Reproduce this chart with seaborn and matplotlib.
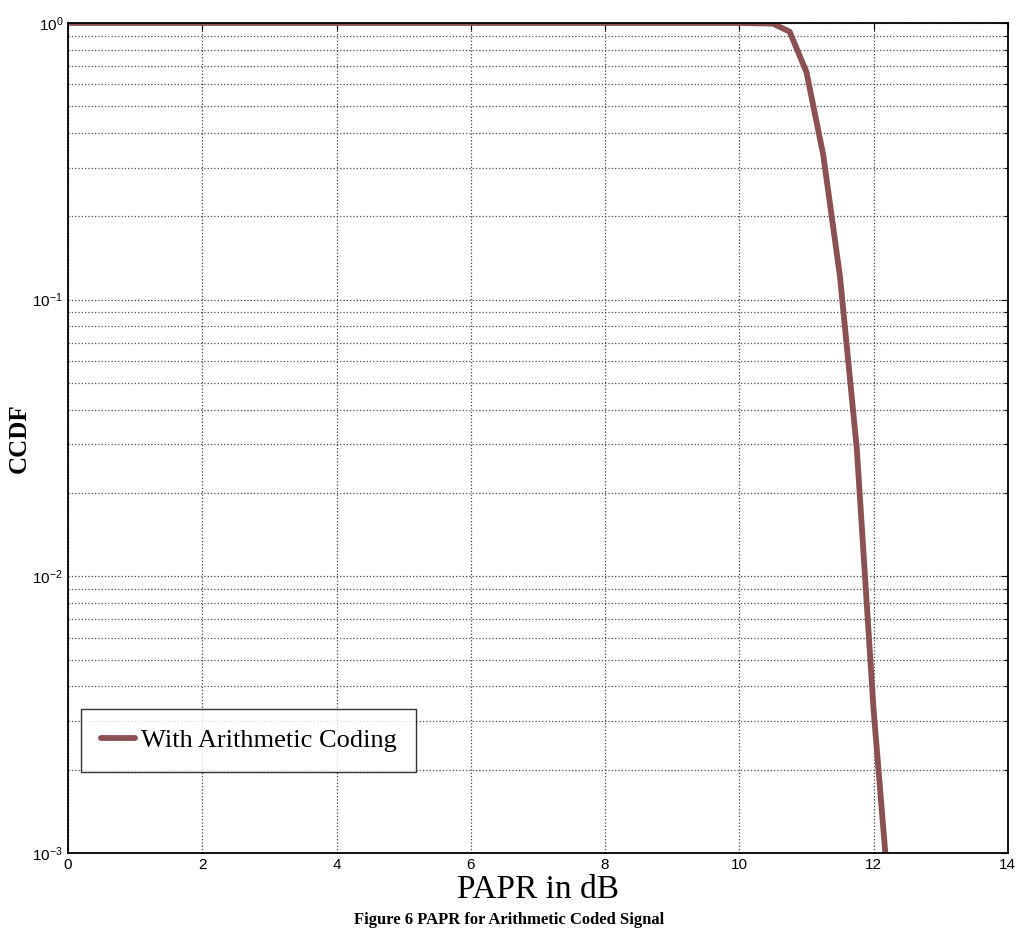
import numpy as np
import pandas as pd
import matplotlib
matplotlib.use("Agg")
import matplotlib.pyplot as plt
import seaborn as sns
from matplotlib.ticker import LogLocator, NullFormatter, FixedLocator

# data (PAPR in dB vs CCDF)
papr_db = [0.0, 10.0, 10.5, 10.75, 11.0, 11.25, 11.5, 11.75, 12.0, 12.25]
ccdf = [1.0, 1.0, 0.995, 0.93, 0.665, 0.334, 0.121, 0.029, 0.0033, 0.0006]
series_label = "With Arithmetic Coding"
x_ticks = [0, 2, 4, 6, 8, 10, 12, 14]

sns.set_style("white")
plt.rcParams['font.family'] = ['Liberation Sans Narrow', 'Liberation Sans', 'DejaVu Sans']
plt.rcParams['text.color'] = 'black'
plt.rcParams['axes.labelcolor'] = 'black'

df = pd.DataFrame({'PAPR': papr_db, 'CCDF': ccdf})

fig = plt.figure(figsize=(10.18, 9.30), dpi=100)
ax = fig.add_axes([0.0668, 0.0828, 0.9232, 0.8925])

sns.lineplot(data=df, x='PAPR', y='CCDF', ax=ax, color='#8B5152',
             linewidth=4.2, label=series_label, sort=True)

ax.set_yscale('log')
ax.set_xlim(0, 14)
ax.set_ylim(1e-3, 1)
ax.xaxis.set_major_locator(FixedLocator(x_ticks))
ax.yaxis.set_major_locator(LogLocator(base=10, numticks=10))
ax.yaxis.set_minor_locator(LogLocator(base=10, subs=np.arange(2, 10), numticks=20))
ax.yaxis.set_minor_formatter(NullFormatter())

ax.grid(True, which='major', axis='both', color='0.25', linestyle=':', linewidth=0.9)
ax.grid(True, which='minor', axis='y', color='0.3', linestyle=':', linewidth=0.9)
ax.tick_params(which='both', direction='in', top=True, right=True, labelsize=11,
               length=5, width=0.8, colors='black')
ax.tick_params(which='minor', length=3)
for sp in ax.spines.values():
    sp.set_color('black')
    sp.set_linewidth(1.3)

ax.set_xlabel('PAPR in dB', family='Liberation Serif', fontsize=24, labelpad=2)
ax.set_ylabel('CCDF', family='Liberation Serif', fontsize=18, fontweight='bold')
ax.yaxis.set_label_coords(-0.04, 0.5)

leg = ax.legend(loc='lower left', bbox_to_anchor=(0.014, 0.098), frameon=True,
                fancybox=False, handlelength=1.3, handletextpad=0.2,
                borderpad=0.75, borderaxespad=0,
                prop={'family': 'Liberation Serif', 'size': 19})
leg.get_frame().set_edgecolor('black')
leg.get_frame().set_linewidth(1.0)
for t in leg.get_texts():
    t.set_color('black')

fig.text(0.5, 0.002, 'Figure 6 PAPR for Arithmetic Coded Signal', ha='center', va='bottom',
         family='Liberation Serif', fontsize=12, fontweight='bold')

fig.savefig('out.png', dpi=100)
